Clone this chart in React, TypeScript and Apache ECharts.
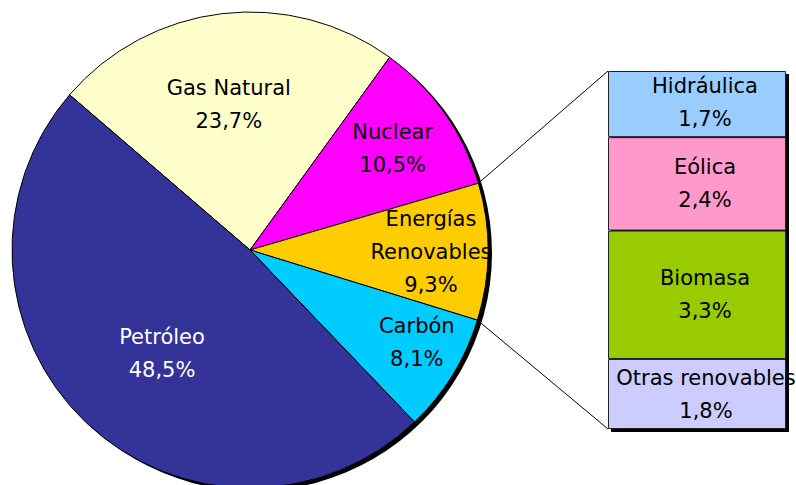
import React, { useEffect, useRef } from "react";
import * as echarts from "echarts";

const pieNames = ["Gas Natural", "Nuclear", "Energías\nRenovables", "Carbón", "Petróleo"];
const pieValues = [23.7, 10.5, 9.3, 8.1, 48.5];
const pieColors = ["#FFFFCC", "#FF00FF", "#FFCC00", "#00CCFF", "#333399"];
const pieLabelColors = ["#000", "#000", "#000", "#000", "#fff"];
const pieLabelOffsets = [[-7, -24], [43, -31], [59, 1], [63, 28], [-4, 15]];

const barNames = ["Hidráulica", "Eólica", "Biomasa", "Otras renovables"];
const barValues = [1.7, 2.4, 3.3, 1.8];
const barColors = ["#99CCFF", "#FF99CC", "#99CC00", "#CCCCFF"];
const barLabelOffsets = [[8, -2], [8, 0], [8, 0], [9, 1]];

const EXPLODED_INDEX = 2;

const fmt = (v: number) => v.toFixed(1).replace(".", ",") + "%";

export default function App() {
  const ref = useRef<HTMLDivElement>(null);
  useEffect(() => {
    if (!ref.current) return;
    const chart = echarts.init(ref.current, null, { renderer: "svg" });
    const cx = 250, cy = 250, R = 238, startAngle = 139.3;
    const grid = { left: 608, top: 71, width: 178, height: 358 };
    const total = pieValues.reduce((a, b) => a + b, 0);
    let a0 = startAngle;
    for (let i = 0; i < EXPLODED_INDEX; i++) a0 -= (pieValues[i] / total) * 360;
    const a1 = a0 - (pieValues[EXPLODED_INDEX] / total) * 360;
    const pt = (deg: number) => [cx + R * Math.cos((deg * Math.PI) / 180), cy - R * Math.sin((deg * Math.PI) / 180)];
    const p0 = pt(a0);
    const p1 = pt(a1);
    const font = "DejaVu Sans";
    const fs = 21;
    chart.setOption({
      animation: false,
      textStyle: { fontFamily: font },
      grid: { ...grid },
      xAxis: { type: "category", data: ["Renovables"], show: false },
      yAxis: {
        type: "value",
        min: 0,
        max: barValues.reduce((a, b) => a + b, 0),
        inverse: true,
        show: false,
      },
      graphic: [
        { type: "circle", z: 0, shape: { cx: cx + 4, cy: cy + 3, r: R }, style: { fill: "#000" } },
        {
          type: "rect",
          z: 0,
          shape: { x: grid.left + 3, y: grid.top + 3, width: grid.width, height: grid.height },
          style: { fill: "#000" },
        },
        { type: "line", z: 5, shape: { x1: p0[0], y1: p0[1], x2: grid.left, y2: grid.top }, style: { stroke: "#000", lineWidth: 1 } },
        {
          type: "line",
          z: 5,
          shape: { x1: p1[0], y1: p1[1], x2: grid.left, y2: grid.top + grid.height },
          style: { stroke: "#000", lineWidth: 1 },
        },
      ],
      series: [
        {
          type: "pie",
          center: [cx, cy],
          radius: R,
          startAngle,
          clockwise: true,
          silent: true,
          label: {
            position: "inside",
            fontFamily: font,
            fontSize: fs,
            lineHeight: 33,
            align: "center",
            formatter: (p: any) => `${pieNames[p.dataIndex]}\n${fmt(p.value)}`,
          },
          labelLine: { show: false },
          itemStyle: { borderColor: "#000", borderWidth: 1 },
          data: pieValues.map((v, i) => ({
            value: v,
            name: pieNames[i],
            itemStyle: { color: pieColors[i] },
            label: { color: pieLabelColors[i], offset: pieLabelOffsets[i] },
          })),
        },
        ...barValues.map((v, i) => ({
          type: "bar",
          name: barNames[i],
          stack: "ren",
          barWidth: "100%",
          silent: true,
          data: [v],
          itemStyle: { color: barColors[i], borderColor: "#222", borderWidth: 1 },
          label: {
            show: true,
            position: "inside",
            fontFamily: font,
            fontSize: fs,
            lineHeight: 33,
            color: "#000",
            offset: barLabelOffsets[i],
            formatter: () => `${barNames[i]}\n${fmt(v)}`,
          },
        })),
      ],
    });
    return () => chart.dispose();
  }, []);
  return (
    <div
      ref={ref}
      style={{ position: "fixed", left: 0, top: 0, width: 796, height: 485, background: "#fff" }}
    />
  );
}
